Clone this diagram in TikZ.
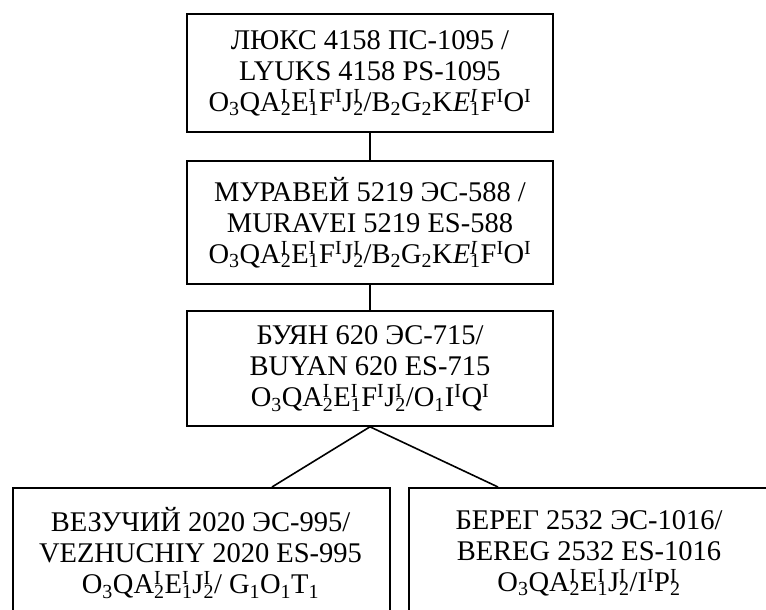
\documentclass[tikz,border=0pt]{standalone}
\usepackage{fontspec}
\setmainfont{Liberation Serif}
\newcommand\SupSub[2]{\rlap{\textsuperscript{#1}}\textsubscript{#2}}
\begin{document}
\begin{tikzpicture}[x=1pt,y=-1pt,
  box/.style={draw, line width=1.6pt, align=center, inner sep=0pt, minimum width=366pt},
  txt/.style={align=center, inner sep=0pt, font=\fontsize{28.5}{31}\selectfont},
  link/.style={line width=1.6pt}]
\useasboundingbox (0,0) rectangle (766,610);
\clip (0,0) rectangle (766,610);
\node[box, txt, minimum height=118pt] (luks) at (370,73)
  {ЛЮКС 4158 ПС-1095 /\\LYUKS 4158 PS-1095\\O\textsubscript{3}QA\SupSub{I}{2}E\SupSub{I}{1}F\textsuperscript{I}J\SupSub{I}{2}/B\textsubscript{2}G\textsubscript{2}K\textit{E}\SupSub{\textit{I}}{1}F\textsuperscript{I}O\textsuperscript{I}};
\node[box, txt, minimum height=123pt] (muravei) at (370,222.5)
  {МУРАВЕЙ 5219 ЭС-588 /\\MURAVEI 5219 ES-588\\O\textsubscript{3}QA\SupSub{I}{2}E\SupSub{I}{1}F\textsuperscript{I}J\SupSub{I}{2}/B\textsubscript{2}G\textsubscript{2}K\textit{E}\SupSub{\textit{I}}{1}F\textsuperscript{I}O\textsuperscript{I}};
\node[box, txt, minimum height=115pt] (buyan) at (370,368.5)
  {БУЯН 620 ЭС-715/\\BUYAN 620 ES-715\\O\textsubscript{3}QA\SupSub{I}{2}E\SupSub{I}{1}F\textsuperscript{I}J\SupSub{I}{2}/O\textsubscript{1}I\textsuperscript{I}Q\textsuperscript{I}};
\node[box, minimum width=377pt, minimum height=170pt, anchor=north west] (vezbox) at (12,487) {};
\node[txt] (veztext) at (200.5,553)
  {ВЕЗУЧИЙ 2020 ЭС-995/\\VEZHUCHIY 2020 ES-995\\O\textsubscript{3}QA\SupSub{I}{2}E\SupSub{I}{1}J\SupSub{I}{2}/ G\textsubscript{1}O\textsubscript{1}T\textsubscript{1}};
\node[box, minimum width=370pt, minimum height=170pt, anchor=north west] (beregbox) at (408,487) {};
\node[txt] (beregtext) at (589,553)
  {БЕРЕГ 2532 ЭС-1016/\\BEREG 2532 ES-1016\\O\textsubscript{3}QA\SupSub{I}{2}E\SupSub{I}{1}J\SupSub{I}{2}/I\textsuperscript{I}P\SupSub{I}{2}};
\draw[link] (luks.south) -- (muravei.north);
\draw[link] (muravei.south) -- (buyan.north);
\draw[link] (buyan.south) -- ([xshift=260pt]vezbox.north west);
\draw[link] (buyan.south) -- ([xshift=90pt]beregbox.north west);
\end{tikzpicture}
\end{document}
